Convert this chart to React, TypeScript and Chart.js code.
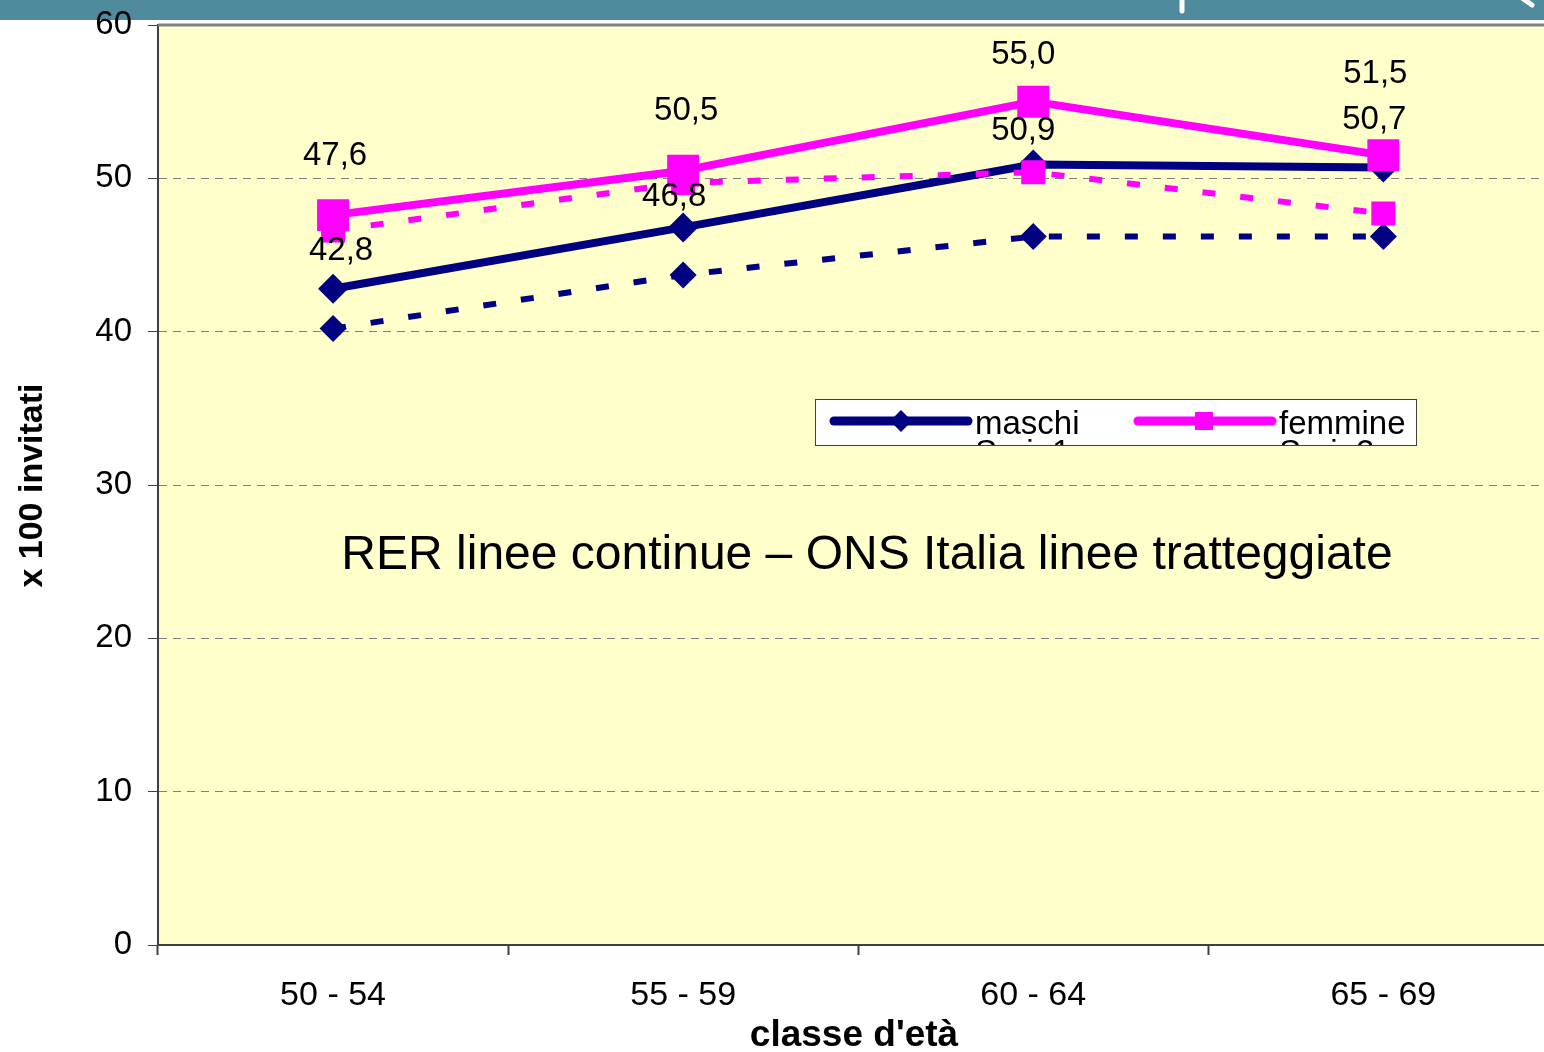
import React, { useEffect, useRef } from 'react';
import { Chart, registerables } from 'chart.js';

Chart.register(...registerables);

// ---- data ----
const categories = ['50 - 54', '55 - 59', '60 - 64', '65 - 69'];
const rerMaschi = [42.8, 46.8, 50.9, 50.7];
const rerFemmine = [47.6, 50.5, 55.0, 51.5];
const onsMaschi = [40.2, 43.7, 46.2, 46.2];
const onsFemmine = [46.6, 49.7, 50.4, 47.7];
const yMin = 0;
const yMax = 60;
const yStep = 10;
const legendLabels = ['maschi', 'femmine'];
const hiddenLegendLabels = ['Serie1', 'Serie2'];
const yTitle = 'x 100 invitati';
const xTitle = "classe d'età";
const noteText = 'RER linee continue \u2013 ONS Italia linee tratteggiate';

// ---- style ----
const NAVY = '#000080';
const MAGENTA = '#FF00FF';
const PLOT_BG = '#FFFFCC';
const TEAL = '#4F8A9D';
const FONT = 'Arial, "Liberation Sans", sans-serif';
// label offsets relative to the point (dx, dy)
const femLabelOffsets = [[2, -62], [3, -63], [-10, -50], [-8, -84]];
const masLabelOffsets = [[8, -41], [-9, -33], [-10, -37], [-9, -51]];

const fmt = (v: number) => v.toFixed(1).replace('.', ',');

const zeroPadding = (scale: any) => {
  scale.paddingLeft = 0;
  scale.paddingRight = 0;
  scale.paddingTop = 0;
  scale.paddingBottom = 0;
};

const decorPlugin = {
  id: 'decor',
  beforeDraw(chart: any) {
    const { ctx, chartArea } = chart;
    ctx.save();
    ctx.fillStyle = '#FFFFFF';
    ctx.fillRect(0, 0, chart.width, chart.height);
    ctx.fillStyle = TEAL;
    ctx.fillRect(0, 0, chart.width, 20);
    ctx.strokeStyle = '#FFFFFF';
    ctx.lineWidth = 5;
    ctx.lineCap = 'round';
    ctx.beginPath();
    ctx.moveTo(1182, -4);
    ctx.lineTo(1182, 11);
    ctx.stroke();
    ctx.beginPath();
    ctx.moveTo(1522, -2);
    ctx.lineTo(1532, 5);
    ctx.stroke();
    ctx.fillStyle = PLOT_BG;
    ctx.fillRect(chartArea.left, chartArea.top, chartArea.right - chartArea.left, chartArea.bottom - chartArea.top);
    ctx.restore();
  },
  afterDraw(chart: any) {
    const { ctx, chartArea } = chart;
    ctx.save();
    // top border of plot
    ctx.strokeStyle = '#808080';
    ctx.lineWidth = 3;
    ctx.beginPath();
    ctx.moveTo(chartArea.left, chartArea.top);
    ctx.lineTo(chartArea.right, chartArea.top);
    ctx.stroke();

    // legend box
    const bx = 815.5, by = 399.5, bw = 601, bh = 46;
    ctx.fillStyle = '#FFFFFF';
    ctx.fillRect(bx, by, bw, bh);
    ctx.strokeStyle = '#404040';
    ctx.lineWidth = 1;
    ctx.strokeRect(bx, by, bw, bh);
    ctx.save();
    ctx.beginPath();
    ctx.rect(bx + 0.5, by + 0.5, bw - 1, bh - 1);
    ctx.clip();
    ctx.lineCap = 'round';
    ctx.lineWidth = 9;
    // maschi sample
    ctx.strokeStyle = NAVY;
    ctx.beginPath();
    ctx.moveTo(834, 421);
    ctx.lineTo(968, 421);
    ctx.stroke();
    ctx.fillStyle = NAVY;
    ctx.beginPath();
    ctx.moveTo(901, 410);
    ctx.lineTo(912, 421);
    ctx.lineTo(901, 432);
    ctx.lineTo(890, 421);
    ctx.closePath();
    ctx.fill();
    // femmine sample
    ctx.strokeStyle = MAGENTA;
    ctx.beginPath();
    ctx.moveTo(1138, 421);
    ctx.lineTo(1272, 421);
    ctx.stroke();
    ctx.fillStyle = MAGENTA;
    ctx.fillRect(1195, 412, 18, 18);
    ctx.fillStyle = '#000000';
    ctx.font = `33px ${FONT}`;
    ctx.textAlign = 'left';
    ctx.textBaseline = 'alphabetic';
    ctx.fillText(legendLabels[0], 975, 434);
    ctx.fillText(legendLabels[1], 1279, 434);
    ctx.fillText(hiddenLegendLabels[0], 975, 463);
    ctx.fillText(hiddenLegendLabels[1], 1279, 463);
    ctx.restore();

    // note
    ctx.fillStyle = '#000000';
    ctx.font = `48px ${FONT}`;
    ctx.textAlign = 'center';
    ctx.textBaseline = 'alphabetic';
    ctx.fillText(noteText, 867, 569);

    // axis titles
    ctx.font = `bold 37px ${FONT}`;
    ctx.fillText(xTitle, 854, 1046);
    ctx.save();
    ctx.translate(42, 485.5);
    ctx.rotate(-Math.PI / 2);
    ctx.font = `bold 34px ${FONT}`;
    ctx.textAlign = 'center';
    ctx.fillText(yTitle, 0, 0);
    ctx.restore();
    ctx.restore();
  },
  afterDatasetsDraw(chart: any) {
    const { ctx } = chart;
    ctx.save();
    ctx.fillStyle = '#000000';
    ctx.font = `33px ${FONT}`;
    ctx.textAlign = 'center';
    ctx.textBaseline = 'alphabetic';
    const draw = (dsIndex: number, values: number[], offs: number[][]) => {
      const meta = chart.getDatasetMeta(dsIndex);
      meta.data.forEach((pt: any, i: number) => {
        ctx.fillText(fmt(values[i]), pt.x + offs[i][0], pt.y + offs[i][1] + 12);
      });
    };
    draw(0, rerFemmine, femLabelOffsets);
    draw(2, rerMaschi, masLabelOffsets);
    ctx.restore();
  },
};

export default function App() {
  const ref = useRef<HTMLCanvasElement | null>(null);
  useEffect(() => {
    if (!ref.current) return;
    const chart = new Chart(ref.current, {
      type: 'line',
      data: {
        labels: categories,
        datasets: [
          {
            label: 'femmine',
            data: rerFemmine,
            borderColor: MAGENTA,
            backgroundColor: MAGENTA,
            borderWidth: 8,
            pointStyle: 'rect',
            pointRadius: 22.6,
            pointBorderWidth: 0,
            pointBackgroundColor: MAGENTA,
            borderJoinStyle: 'round',
            tension: 0,
          },
          {
            label: 'ONS femmine',
            data: onsFemmine,
            borderColor: MAGENTA,
            backgroundColor: MAGENTA,
            borderWidth: 6,
            borderDash: [13, 25],
            pointStyle: 'rect',
            pointRadius: 17,
            pointBorderWidth: 0,
            pointBackgroundColor: MAGENTA,
            tension: 0,
          },
          {
            label: 'maschi',
            data: rerMaschi,
            borderColor: NAVY,
            backgroundColor: NAVY,
            borderWidth: 8,
            pointStyle: 'rectRot',
            pointRadius: 15,
            pointBorderWidth: 0,
            pointBackgroundColor: NAVY,
            borderJoinStyle: 'round',
            tension: 0,
          },
          {
            label: 'ONS maschi',
            data: onsMaschi,
            borderColor: NAVY,
            backgroundColor: NAVY,
            borderWidth: 6,
            borderDash: [13, 25],
            pointStyle: 'rectRot',
            pointRadius: 13.5,
            pointBorderWidth: 0,
            pointBackgroundColor: NAVY,
            tension: 0,
          },
        ],
      },
      options: {
        responsive: false,
        animation: false,
        devicePixelRatio: 1,
        layout: { padding: { top: 25, right: 2, left: 0, bottom: 0 } },
        plugins: {
          legend: { display: false },
          tooltip: { enabled: false },
        },
        scales: {
          x: {
            offset: true,
            grid: {
              offset: true,
              drawOnChartArea: false,
              tickLength: 10,
              tickColor: '#404040',
              tickWidth: 2,
            },
            border: { color: '#404040', width: 2 },
            ticks: {
              color: '#000000',
              font: { family: FONT, size: 34 },
              padding: 20,
              maxRotation: 0,
            },
            afterFit: (scale: any) => {
              scale.height = 107;
              zeroPadding(scale);
            },
          },
          y: {
            min: yMin,
            max: yMax,
            grid: {
              color: (c: any) =>
                c.tick && (c.tick.value === yMax || c.tick.value === yMin) ? 'rgba(0,0,0,0)' : '#808080',
              lineWidth: 1,
              tickLength: 10,
              tickColor: '#404040',
              tickWidth: 1,
            },
            border: { color: '#404040', width: 2, dash: [8, 6] },
            ticks: {
              stepSize: yStep,
              color: '#000000',
              font: { family: FONT, size: 33 },
              padding: 16,
            },
            afterFit: (scale: any) => {
              scale.width = 158;
              zeroPadding(scale);
            },
          },
        },
      },
      plugins: [decorPlugin],
    });
    return () => chart.destroy();
  }, []);
  return (
    <div
      style={{
        position: 'absolute',
        left: 0,
        top: 0,
        width: 1544,
        height: 1052,
        overflow: 'hidden',
        background: '#FFFFFF',
      }}
    >
      <canvas ref={ref} width={1581} height={1052} style={{ display: 'block' }} />
    </div>
  );
}
